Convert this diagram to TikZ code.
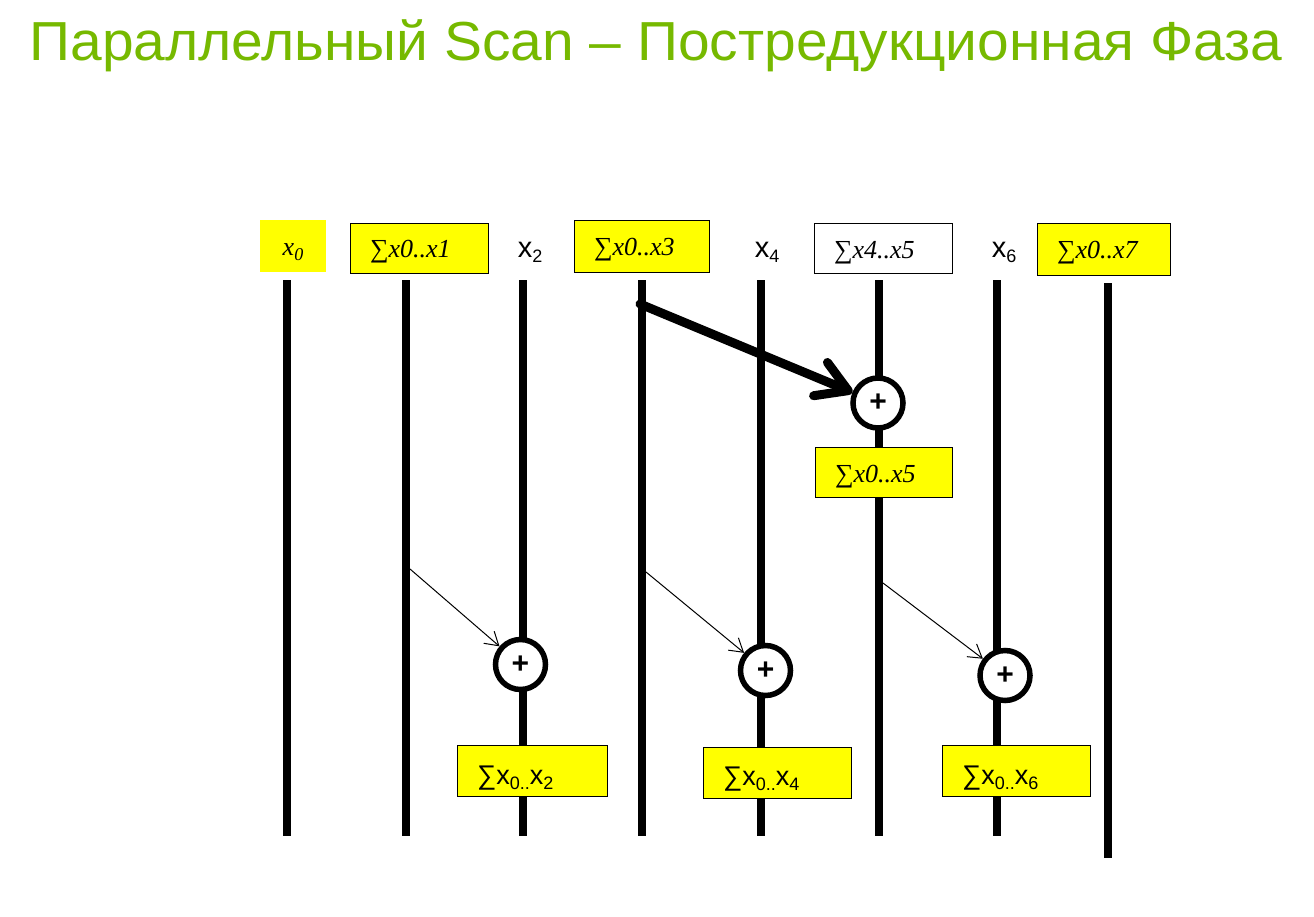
\documentclass[tikz,border=0pt]{standalone}
\usepackage{fontspec}
\setmainfont{Liberation Serif}
\newfontfamily\sansf{Liberation Sans}
\newfontfamily\titlef[FakeStretch=1.035]{Liberation Sans}
\usetikzlibrary{positioning,arrows.meta}

\definecolor{nvgreen}{HTML}{76B900}
\definecolor{boxyellow}{HTML}{FFFF00}

\newcommand\dn[1]{\raisebox{-5pt}{\fontsize{18}{18}\selectfont #1}}
\newcommand\sumx[2]{∑\textit{x#1..x#2}}
\newcommand\sumsub[1]{∑x\dn{0..}x\dn{#1}}

\begin{document}
\begin{tikzpicture}[x=1pt,y=-1pt,
  wire/.style={line width=8.5pt},
  topbox/.style={draw, line width=1pt, fill=boxyellow, minimum height=50pt,
    inner xsep=20pt, align=left, text height=22pt, text depth=3pt,
    font=\fontsize{26}{26}\selectfont},
  botbox/.style={draw, line width=1pt, fill=boxyellow, minimum height=51pt,
    inner xsep=20pt, align=left, text height=30pt, text depth=4pt,
    font=\sansf\fontsize{27}{27}\selectfont},
  xlabel/.style={font=\sansf\fontsize{29}{29}\selectfont},
  plus/.style={circle, draw, line width=5.5pt, fill=white, minimum size=50pt,
    inner sep=0pt, font=\sansf\bfseries\fontsize{30}{30}\selectfont},
  bigarrow/.style={line width=9pt, line cap=round,
    -{Straight Barb[length=30pt,width=36pt,line cap=round,round]}},
  smallarrow/.style={line width=1pt,
    -{Straight Barb[length=13pt,width=16pt]}}]
\useasboundingbox (0,0) rectangle (1314,916);

% title
\node[anchor=west, text=nvgreen, font=\titlef\fontsize{55}{55}\selectfont] (title) at (26,46)
  {Параллельный Scan – Постредукционная Фаза};

% wires
\foreach \i/\x in {0/287,1/406,2/523,3/642,4/761,5/879,6/997}
  \coordinate (w\i top) at (\x,280);
\foreach \i/\x in {0/287,1/406,2/523,3/642,4/761,5/879,6/997}
  \coordinate (w\i bot) at (\x,836);
\coordinate (w7top) at (1108,283);
\coordinate (w7bot) at (1108,858);
\foreach \i in {0,...,7}
  \draw[wire] (w\i top) -- (w\i bot);

% top row
\node[fill=boxyellow, minimum width=66pt, minimum height=52pt, text height=22pt, text depth=3pt,
  font=\fontsize{26}{26}\selectfont] (t0) at (293,246) {\textit{x}\dn{\textit{0}}};
\node[topbox, text width=98pt] (t1) at (419,248) {\sumx{0}{1}};
\node[xlabel] (t2) at (530,252) {x\dn{2}};
\node[topbox, text width=95pt, minimum height=52pt] (t3) at (641.5,246) {\sumx{0}{3}};
\node[xlabel] (t4) at (767,252) {x\dn{4}};
\node[topbox, fill=white, text width=98pt] (t5) at (883,248.5) {\sumx{4}{5}};
\node[xlabel] (t6) at (1004,252) {x\dn{6}};
\node[topbox, text width=93pt, minimum height=52pt] (t7) at (1103.5,249) {\sumx{0}{7}};

% first step
\node[plus] (p5) at (878,403) {+};
\node[topbox, text width=97pt] (m5) at (883.5,472.5) {\sumx{0}{5}};
\coordinate (a3) at (640,304);
\draw[bigarrow] (a3) -- (p5);

% second step
\node[plus] (p2) at (520.5,664.5) {+};
\node[plus] (p4) at (765.5,670.5) {+};
\node[plus] (p6) at (1005,675.5) {+};
\coordinate (a1) at (410,569);
\coordinate (a3b) at (646,572);
\coordinate (a5) at (883,583);
\draw[smallarrow] (a1) -- (p2);
\draw[smallarrow] (a3b) -- (p4);
\draw[smallarrow] (a5) -- (p6);

\node[botbox, text width=110pt] (s2) at (532,771) {\sumsub{2}};
\node[botbox, text width=108pt] (s4) at (777,772.5) {\sumsub{4}};
\node[botbox, text width=108pt] (s6) at (1016,771) {\sumsub{6}};
\end{tikzpicture}
\end{document}
